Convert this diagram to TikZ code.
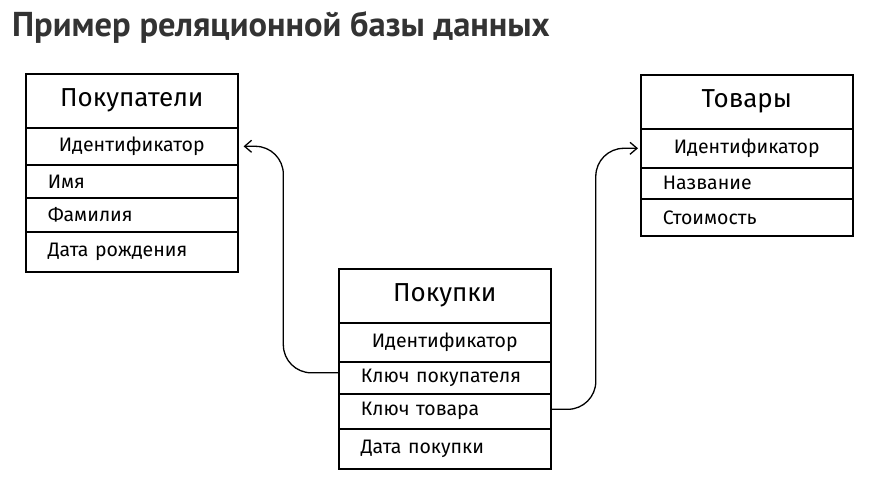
\documentclass[tikz,border=0pt]{standalone}
\usepackage{fontspec}
\setmainfont{Fira Sans}
\newfontfamily\titlefont{PT Sans}
\usetikzlibrary{arrows.meta,calc}
\definecolor{titlegray}{HTML}{333333}
\begin{document}
\begin{tikzpicture}[x=1pt,y=-1pt,
  cell/.style={draw, line width=1.6pt, rectangle, anchor=north west,
    minimum width=212pt, inner xsep=22pt, text width=168pt, inner ysep=0pt,
    font=\fontsize{19.5}{22}\selectfont},
  headcell/.style={cell, align=center, font=\fontsize{26}{30}\selectfont},
  ccell/.style={cell, align=center},
  lcell/.style={cell, align=left},
  link/.style={line width=1.3pt, rounded corners=28pt, -{Straight Barb[length=7pt,width=12pt,line width=1.3pt]}}
]
\useasboundingbox (0,0) rectangle (875,491);
\node[anchor=base west, font=\titlefont\bfseries\fontsize{34.5}{38}\selectfont, text=titlegray, inner sep=0pt] (title) at (12,36) {Пример реляционной базы данных};

% Покупатели
\node[headcell, minimum height=54pt] (h1) at (25,73) {Покупатели};
\node[ccell, minimum height=37pt] (c1a) at (25,127) {Идентификатор};
\node[lcell, minimum height=33pt] (c1b) at (25,164) {Имя};
\node[lcell, minimum height=34pt] (c1c) at (25,197) {Фамилия};
\node[lcell, minimum height=40pt] (c1d) at (25,231) {Дата рождения};

% Товары
\node[headcell, minimum height=54pt] (h3) at (640,74) {Товары};
\node[ccell, minimum height=39pt] (c3a) at (640,128) {Идентификатор};
\node[lcell, minimum height=31pt] (c3b) at (640,167) {Название};
\node[lcell, minimum height=37pt] (c3c) at (640,198) {Стоимость};

% Покупки
\node[headcell, minimum height=54pt] (h2) at (338,268) {Покупки};
\node[ccell, minimum height=39pt] (c2a) at (338,322) {Идентификатор};
\node[lcell, minimum height=32pt] (c2b) at (338,361) {Ключ покупателя};
\node[lcell, minimum height=35pt] (c2c) at (338,393) {Ключ товара};
\node[lcell, minimum height=40pt] (c2d) at (338,428) {Дата покупки};

% connectors
\draw[link] ([yshift=5pt]c2b.west) -| ($([yshift=5pt]c2b.west)!0.55!(c1a.east)$) |- ([xshift=5pt]c1a.east);
\draw[link] ([yshift=2pt]c2c.east) -| ($([yshift=2pt]c2c.east)!0.5!(c3a.west)$) |- ([xshift=-2pt]c3a.west);
\end{tikzpicture}
\end{document}
